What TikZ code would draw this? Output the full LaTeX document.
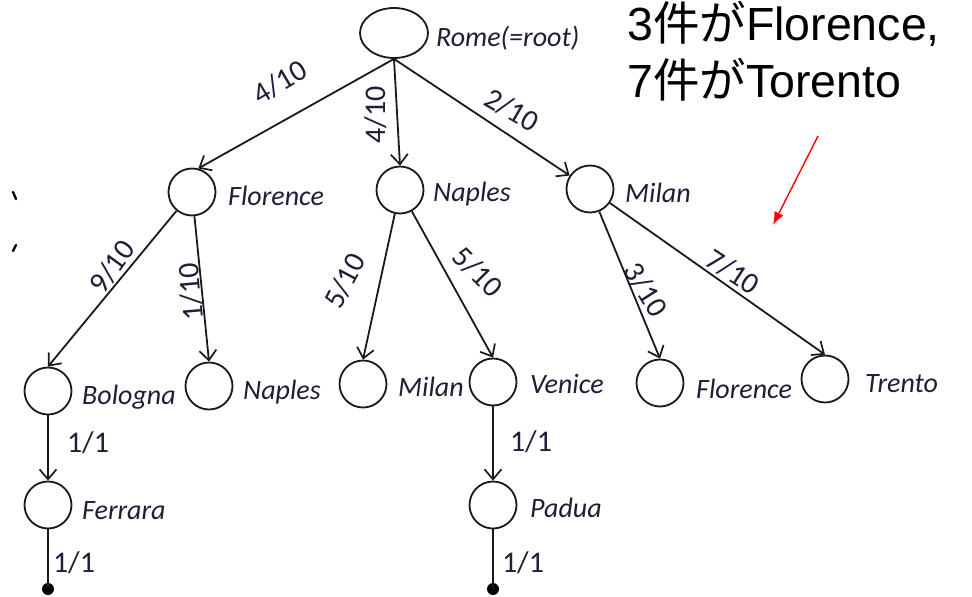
\documentclass[tikz,border=0pt]{standalone}
\usepackage{fontspec}
\setmainfont{Carlito}
\newfontfamily\jpfont{Noto Sans CJK JP}
\newfontfamily\latinfont{Liberation Sans}
\usetikzlibrary{arrows.meta,shapes.geometric}
\definecolor{ink}{RGB}{30,30,55}
\definecolor{stroke}{RGB}{25,25,25}
\begin{document}
\begin{tikzpicture}[x=1pt,y=-1pt,
  city/.style={circle,draw=stroke,line width=1.8pt,minimum size=47pt,inner sep=0pt},
  rootnode/.style={ellipse,draw=stroke,line width=1.8pt,minimum width=68pt,minimum height=50pt,inner sep=0pt},
  endpt/.style={circle,fill=black,minimum size=12pt,inner sep=0pt},
  citylabel/.style={anchor=west,inner sep=0pt,text=ink,font=\fontsize{28}{32}\selectfont\itshape},
  prob/.style={inner sep=0pt,text=ink,font=\fontsize{30}{34}\selectfont},
  trans/.style={line width=1.8pt,draw=stroke,-{Straight Barb[length=10pt,width=17pt,line width=1.7pt]}},
  plainline/.style={line width=1.8pt,draw=stroke},
  notetext/.style={anchor=base west,inner sep=0pt,font=\fontsize{46.5}{52}\selectfont}
]
\useasboundingbox (0,0) rectangle (972,597);

% tree nodes
\node[rootnode] (rome) at (394,33) {};
\node[city] (flo) at (192,192) {};
\node[city] (nap) at (400,190) {};
\node[city] (mil) at (590,189) {};
\node[city] (bol) at (48,391) {};
\node[city] (nap2) at (209,386) {};
\node[city] (mil2) at (363,384) {};
\node[city] (ven) at (493,382) {};
\node[city] (flo2) at (660,383) {};
\node[city] (tre) at (825,379) {};
\node[city] (fer) at (48,505) {};
\node[city] (pad) at (493,505) {};
\node[endpt] (ferend) at (48,589) {};
\node[endpt] (padend) at (493,589) {};

% city names
\node[citylabel] (lrome) at (436,38) {Rome(=root)};
\node[citylabel] (lflo) at (228,196) {Florence};
\node[citylabel] (lnap) at (433,194) {Naples};
\node[citylabel] (lmil) at (625,193) {Milan};
\node[citylabel] (lbol) at (82,397) {Bologna};
\node[citylabel] (lnap2) at (243,392) {Naples};
\node[citylabel] (lmil2) at (398,387) {Milan};
\node[citylabel] (lven) at (530,384) {Venice};
\node[citylabel] (lflo2) at (696,389) {Florence};
\node[citylabel] (ltre) at (865,384) {Trento};
\node[citylabel] (lfer) at (82,511) {Ferrara};
\node[citylabel] (lpad) at (530,508) {Padua};

% transitions
\draw[trans] (rome.south) -- (flo.75);
\draw[trans] (rome.south) -- (nap.north);
\draw[trans] (rome.south) -- (mil);
\draw[trans] (flo) -- (bol.north);
\draw[trans] (flo) -- (nap2.north);
\draw[trans] (nap) -- (mil2.north);
\draw[trans] (nap) -- (ven.north);
\draw[trans] (mil) -- (flo2.north);
\draw[trans] (mil) -- (tre.north);
\draw[trans] (bol) -- (fer);
\draw[trans] (ven) -- (pad);
\draw[plainline] (fer) -- (ferend.center);
\draw[plainline] (pad) -- (padend.center);

% probabilities
\node[prob,rotate=31] (p1) at (280,82) {4/10};
\node[prob,rotate=90] (p2) at (376,115) {4/10};
\node[prob,rotate=-30] (p3) at (512,110) {2/10};
\node[prob,rotate=54] (p4) at (112,267) {9/10};
\node[prob,rotate=95] (p5) at (191,292) {1/10};
\node[prob,rotate=62] (p6) at (345,281) {5/10};
\node[prob,rotate=-45] (p7) at (478,272) {5/10};
\node[prob,rotate=-58] (p8) at (646,290) {3/10};
\node[prob,rotate=-33] (p9) at (733,272) {7/10};
\node[prob] (p10) at (88,443) {1/1};
\node[prob] (p11) at (74,563) {1/1};
\node[prob] (p12) at (531,442) {1/1};
\node[prob] (p13) at (523,563) {1/1};

% annotation
\node[notetext] (n1) at (627,40) {\latinfont 3\jpfont 件が\latinfont Florence,};
\node[notetext] (n2) at (627,97) {\latinfont 7\jpfont 件が\latinfont Torento};
\coordinate (ra) at (818,136);
\coordinate (rb) at (773,225);
\draw[red,line width=1.4pt,-{Latex[length=13pt,width=10pt]}] (ra) -- (rb);

% clipped glyph ends at the left edge
\draw[line width=2.4pt,line cap=round] (13,192) -- (16,199);
\draw[line width=2.4pt,line cap=round] (16,245) -- (13,251);
\end{tikzpicture}
\end{document}
